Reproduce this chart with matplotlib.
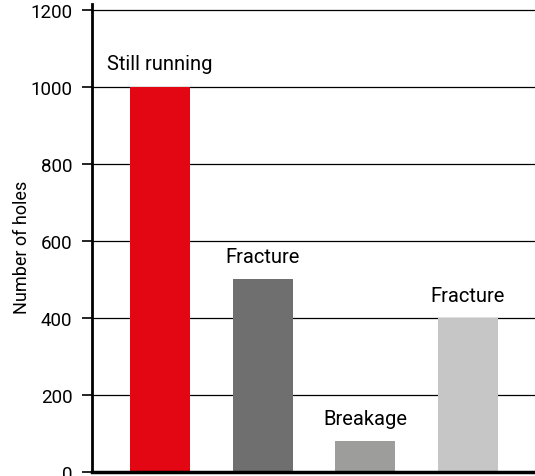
import matplotlib.pyplot as plt

# hole counts per outcome
outcomes = ["Still running", "Fracture", "Breakage", "Fracture"]
holes = [1000, 500, 80, 400]
colors = ["#E30613", "#706F6F", "#9D9D9C", "#C6C6C6"]
yticks = [0, 200, 400, 600, 800, 1000, 1200]

plt.rcParams["font.family"] = ["Roboto", "DejaVu Sans"]

fig = plt.figure(figsize=(5.35, 4.77), dpi=100)
ax = fig.add_axes([92 / 535, 4 / 477, 443 / 535, 468 / 477])

x = list(range(len(holes)))
bars = ax.bar(x, holes, width=0.584, color=colors, zorder=2)

for xi, h, name in zip(x, holes, outcomes):
    ax.annotate(name, (xi, h), xytext=(0, 16.5), textcoords="offset points",
                ha="center", va="center", fontsize=14.5)

ax.set_xlim(-0.662, 3.652)
ax.set_ylim(0, 1215)
ax.set_yticks(yticks)
ax.set_xticks([])
ax.tick_params(axis="y", labelsize=13.5, length=7, width=1.2, pad=7)
ax.grid(axis="y", color="black", linewidth=0.9, zorder=1)

for side in ["top", "right"]:
    ax.spines[side].set_visible(False)
ax.spines["left"].set_linewidth(2)
ax.spines["bottom"].set_linewidth(2.5)

# axis title placed in figure coords so it stays inside the canvas
fig.text(22 / 535, 1 - 247 / 477, "Number of holes", rotation=90,
         ha="center", va="center", fontsize=13)

fig.savefig("out.png", dpi=100)
